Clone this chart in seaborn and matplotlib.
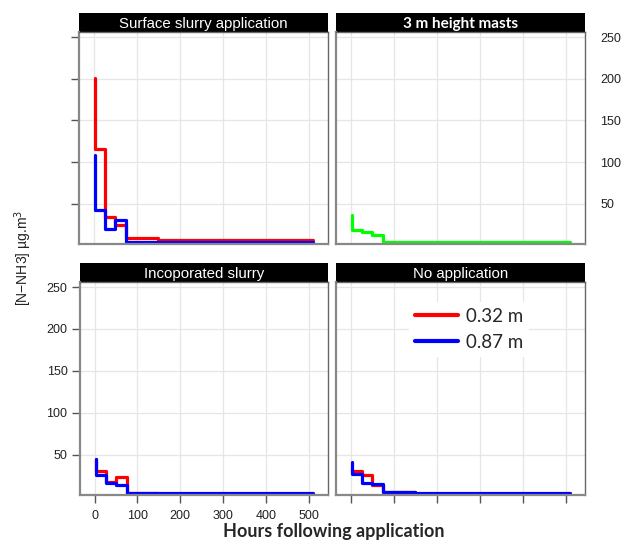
import matplotlib
matplotlib.use("Agg")
import matplotlib.pyplot as plt
from matplotlib.patches import Rectangle
from matplotlib.lines import Line2D
import seaborn as sns
import pandas as pd

# ---- data ----
hours = [3, 26, 50, 75, 149, 510]
surface_032 = [201, 116, 34, 25, 9, 6]
surface_087 = [108, 43, 20, 30, 4.4, 4.4]
mast_3m = [37, 19, 16, 12.7, 4.4, 4.0]
incorporated_032 = [45, 31, 17.5, 23.4, 4.4, 3.2]
incorporated_087 = [45, 26, 16.3, 13.5, 4.4, 4.4]
noapp_032 = [33, 31, 26, 14, 5.5, 3.5]
noapp_087 = [41, 27, 16, 14.5, 5.5, 4.5]

panel_titles = ["Surface slurry application", "3 m height masts",
                "Incoporated slurry", "No application"]
heights = ["0.32 m", "0.87 m", "3 m"]
x_ticks = [0, 100, 200, 300, 400, 500]
y_ticks = [50, 100, 150, 200, 250]

series = [
    (panel_titles[0], heights[0], surface_032),
    (panel_titles[0], heights[1], surface_087),
    (panel_titles[1], heights[2], mast_3m),
    (panel_titles[2], heights[0], incorporated_032),
    (panel_titles[2], heights[1], incorporated_087),
    (panel_titles[3], heights[0], noapp_032),
    (panel_titles[3], heights[1], noapp_087),
]
rows = []
for panel, h, vals in series:
    for t, v in zip(hours, vals):
        rows.append({"panel": panel, "height": h, "hours": t, "conc": v})
df = pd.DataFrame(rows)

palette = {"0.32 m": "#ff0000", "0.87 m": "#0000ff", "3 m": "#00ff00"}

sns.set_style("white")
plt.rcParams["font.family"] = ["Liberation Sans", "DejaVu Sans"]

W, H = 623, 542
fig = plt.figure(figsize=(W / 100, H / 100), dpi=100)

def box(x0, y0, x1, y1):
    return [x0 / W, 1 - y1 / H, (x1 - x0) / W, (y1 - y0) / H]

boxes = [box(79, 32, 328, 244), box(336, 32, 585, 244),
         box(80, 282, 328, 495), box(336, 282, 585, 495)]
title_fonts = [dict(family=["Liberation Sans"], weight="normal", size=10.8),
               dict(family=["Lato", "DejaVu Sans"], weight="bold", size=11),
               dict(family=["Liberation Sans"], weight="normal", size=10.8),
               dict(family=["Liberation Sans"], weight="normal", size=10.8)]

axes = []
for i, (title, b) in enumerate(zip(panel_titles, boxes)):
    ax = fig.add_axes(b)
    axes.append(ax)
    sub = df[df["panel"] == title]
    sns.lineplot(data=sub, x="hours", y="conc", hue="height", palette=palette,
                 hue_order=[h for h in heights if h in set(sub["height"])],
                 estimator=None, sort=False, drawstyle="steps-pre",
                 linewidth=2.3, legend=False, ax=ax)
    ax.set_xlim(-34, 545)
    ax.set_ylim(1.8, 256)
    ax.set_xticks(x_ticks)
    ax.set_yticks(y_ticks)
    ax.grid(True, color="#e6e6e6", linewidth=0.9)
    ax.set_axisbelow(True)
    ax.set_xlabel("")
    ax.set_ylabel("")
    for s in ax.spines.values():
        s.set_color("#666666")
        s.set_linewidth(1.0)
    ax.spines["left"].set_linewidth(1.6)
    ax.spines["bottom"].set_linewidth(1.6)
    ax.spines["left"].set_color("#888888")
    ax.spines["bottom"].set_color("#888888")
    # strip
    sh = 19 / (b[3] * H)
    ax.add_patch(Rectangle((0, 1), 1, sh, transform=ax.transAxes,
                           clip_on=False, facecolor="black", edgecolor="none"))
    ax.text(0.5, 1 + sh / 2, title, transform=ax.transAxes, color="white",
            ha="center", va="center_baseline", **title_fonts[i])
    ax.tick_params(axis="both", colors="#555555", labelcolor="#222222",
                   labelsize=9, width=1.0)

# top-left: y tick marks only
axes[0].tick_params(axis="y", left=True, length=5.5, labelleft=False)
axes[0].tick_params(axis="x", bottom=False, labelbottom=False)
# top-right: labels on the right, no marks
axes[1].yaxis.tick_right()
axes[1].tick_params(axis="y", right=True, length=0, pad=11, labelright=True,
                    labelleft=False)
axes[1].tick_params(axis="x", bottom=False, labelbottom=False)
# bottom-left: full axes
axes[2].tick_params(axis="y", left=True, length=5.5, pad=3.5, labelleft=True)
axes[2].tick_params(axis="x", bottom=True, length=5.5, pad=5.5, labelbottom=True)
# bottom-right: x marks only
axes[3].tick_params(axis="y", left=False, labelleft=False)
axes[3].tick_params(axis="x", bottom=True, length=5.5, labelbottom=False)

# legend in the bottom-right panel
handles = [Line2D([], [], color=palette["0.32 m"], lw=3),
           Line2D([], [], color=palette["0.87 m"], lw=3)]
leg = axes[3].legend(handles, ["0.32 m", "0.87 m"], loc="upper left",
                     bbox_to_anchor=(0.293, 0.906), borderaxespad=0,
                     borderpad=0.3, handlelength=2.3, handletextpad=0.45,
                     labelspacing=0.5, frameon=True, facecolor="white",
                     edgecolor="none", framealpha=1,
                     prop=dict(family=["Lato", "DejaVu Sans"], size=13.5))
leg.get_frame().set_linewidth(0)

fig.text(334 / W, 1 - 532 / H, "Hours following application", ha="center",
         va="center", family=["Lato", "DejaVu Sans"], weight="bold", size=13)
fig.text(23 / W, 1 - 258 / H, "[N\u2212NH3] \u00b5g.m$^{3}$", rotation=90,
         ha="center", va="center", size=10, color="#222222")

fig.savefig("out.png", dpi=100, facecolor="white")
